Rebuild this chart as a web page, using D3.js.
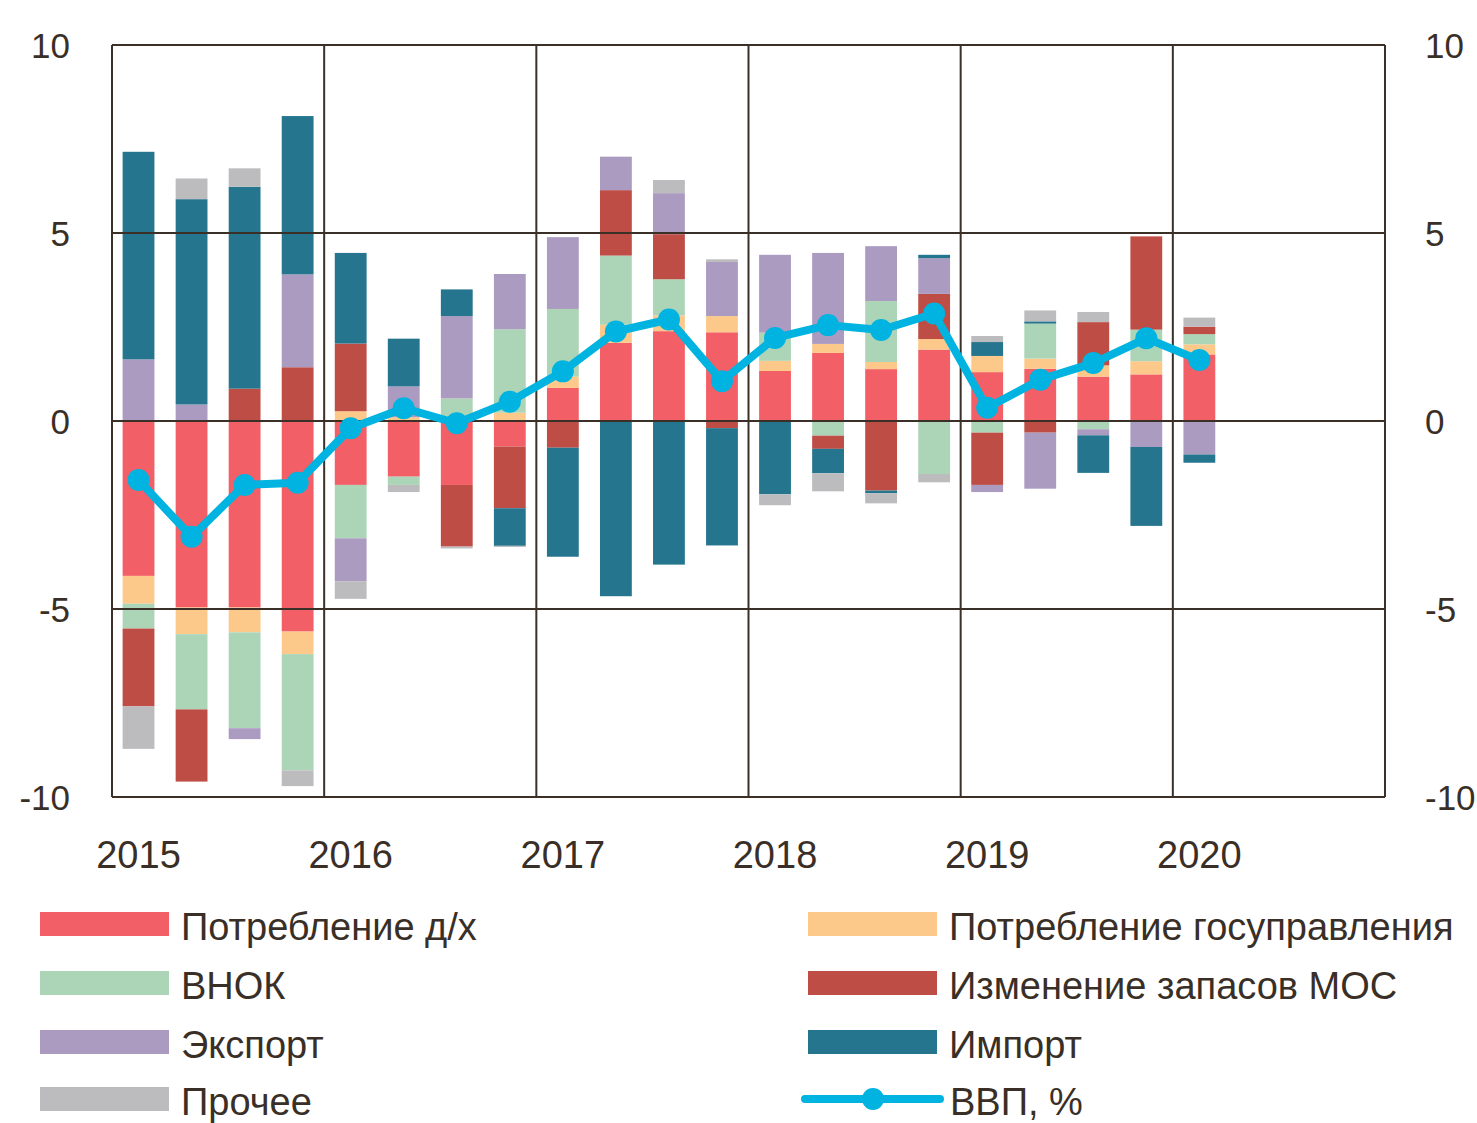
<!DOCTYPE html>
<html>
<head>
<meta charset="utf-8">
<script src="https://cdn.jsdelivr.net/npm/d3@7"></script>
<style>
  body { margin: 0; background: #fff; }
  text { font-family: "Liberation Sans", Arial, sans-serif; fill: #3a2f27; }
</style>
</head>
<body>
<div id="chart"></div>
<script>
"use strict";

let svgWidth = 1477;
let svgHeight = 1123;

/* Data */
let years = [2015, 2016, 2017, 2018, 2019, 2020];
let quarters = ["2015Q1", "2015Q2", "2015Q3", "2015Q4",
  "2016Q1", "2016Q2", "2016Q3", "2016Q4",
  "2017Q1", "2017Q2", "2017Q3", "2017Q4",
  "2018Q1", "2018Q2", "2018Q3", "2018Q4",
  "2019Q1", "2019Q2", "2019Q3", "2019Q4",
  "2020Q1"];
// empty slots so 2020 gets the full width like the other years
let axisQuarters = quarters.concat(["2020Q2", "2020Q3", "2020Q4"]);

let seriesNames = ["Потребление д/х", "Потребление госуправления", "ВНОК",
  "Изменение запасов МОС", "Экспорт", "Импорт", "Прочее"];
let seriesKeys = ["cons", "gov", "bnok", "inv", "exp", "imp", "other"];
let seriesColors = ["#f35f66", "#fdc98a", "#acd5b7", "#be4d45", "#ab9bc0", "#25758e", "#bcbcbe"];

let consumption = [-4.12, -4.96, -4.96, -5.60, -1.70, -1.48, -1.70, -0.68, 0.88, 2.08, 2.39, 2.36, 1.33, 1.81, 1.38, 1.90, 1.30, 1.39, 1.18, 1.24, 1.77];
let government = [-0.74, -0.71, -0.66, -0.60, 0.26, 0.10, 0.05, 0.22, 0.30, 0.48, 0.42, 0.43, 0.27, 0.24, 0.19, 0.28, 0.43, 0.27, 0.30, 0.35, 0.27];
let investment = [-0.66, -2.00, -2.55, -3.09, -1.42, -0.22, 0.55, 2.22, 1.80, 1.84, 0.96, 0.00, 0.75, -0.39, 1.62, -1.41, -0.31, 0.93, -0.22, 0.84, 0.27];
let inventories = [-2.07, -1.92, 0.86, 1.43, 1.80, 0.00, -1.64, -1.64, -0.71, 1.74, 1.20, -0.19, 0.00, -0.35, -1.85, 1.20, -1.39, -0.31, 1.15, 2.48, 0.20];
let exports = [1.64, 0.44, -0.29, 2.47, -1.14, 0.82, 2.19, 1.47, 1.91, 0.89, 1.09, 1.44, 2.07, 2.42, 1.46, 0.95, -0.19, -1.49, -0.16, -0.69, -0.89];
let imports = [5.52, 5.46, 5.37, 4.21, 2.41, 1.27, 0.71, -1.00, -2.90, -4.66, -3.82, -3.12, -1.95, -0.65, -0.07, 0.09, 0.37, 0.06, -1.00, -2.10, -0.22];
let other = [-1.13, 0.55, 0.49, -0.42, -0.47, -0.19, -0.05, -0.03, 0.00, 0.00, 0.35, 0.07, -0.29, -0.48, -0.27, -0.22, 0.16, 0.29, 0.27, 0.00, 0.24];
let gdp = [-1.57, -3.08, -1.70, -1.64, -0.19, 0.34, -0.06, 0.51, 1.32, 2.38, 2.70, 1.06, 2.21, 2.55, 2.42, 2.86, 0.35, 1.10, 1.54, 2.20, 1.62];

let yTicks = [-10, -5, 0, 5, 10];

let rows = quarters.map((q, i) => ({
  q: q,
  cons: consumption[i],
  gov: government[i],
  bnok: investment[i],
  inv: inventories[i],
  exp: exports[i],
  imp: imports[i],
  other: other[i],
  gdp: gdp[i]
}));

/* Canvas */
let svg = d3.select("#chart")
  .append("svg")
  .attr("width", svgWidth)
  .attr("height", svgHeight);

let plotLeft = 112, plotRight = 1385, plotTop = 45, plotBottom = 797;

let xScale = d3.scaleBand()
  .domain(axisQuarters)
  .range([plotLeft, plotRight])
  .paddingInner(0.4)
  .paddingOuter(0.2);

let yearScale = d3.scaleLinear()
  .domain([years[0], years[years.length - 1] + 1])
  .range([plotLeft, plotRight]);

let yScale = d3.scaleLinear()
  .domain([-10, 10])
  .range([plotBottom, plotTop]);

/* Bars */
let stack = d3.stack()
  .keys(seriesKeys)
  .order(d3.stackOrderNone)
  .offset(d3.stackOffsetDiverging);

let layers = stack(rows);

svg.append("g")
  .selectAll("g")
  .data(layers)
  .join("g")
  .attr("fill", (d, i) => seriesColors[i])
  .selectAll("rect")
  .data(d => d)
  .join("rect")
  .attr("x", d => xScale(d.data.q))
  .attr("width", xScale.bandwidth())
  .attr("y", d => yScale(Math.max(d[0], d[1])))
  .attr("height", d => Math.abs(yScale(d[0]) - yScale(d[1])));

/* Grid */
let gridColor = "#3b3027";

svg.append("g")
  .selectAll("line")
  .data(yTicks)
  .join("line")
  .attr("x1", plotLeft)
  .attr("x2", plotRight)
  .attr("y1", d => yScale(d))
  .attr("y2", d => yScale(d))
  .attr("stroke", gridColor)
  .attr("stroke-width", 2);

svg.append("g")
  .selectAll("line")
  .data(years.concat([years[years.length - 1] + 1]))
  .join("line")
  .attr("x1", d => yearScale(d))
  .attr("x2", d => yearScale(d))
  .attr("y1", plotTop)
  .attr("y2", plotBottom)
  .attr("stroke", gridColor)
  .attr("stroke-width", 2);

/* GDP line */
let gdpColor = "#00b3e0";

let line = d3.line()
  .x(d => xScale(d.q) + xScale.bandwidth() / 2)
  .y(d => yScale(d.gdp));

svg.append("path")
  .datum(rows)
  .attr("fill", "none")
  .attr("stroke", gdpColor)
  .attr("stroke-width", 8)
  .attr("stroke-linejoin", "round")
  .attr("d", line);

svg.append("g")
  .selectAll("circle")
  .data(rows)
  .join("circle")
  .attr("cx", d => xScale(d.q) + xScale.bandwidth() / 2)
  .attr("cy", d => yScale(d.gdp))
  .attr("r", 11)
  .attr("fill", gdpColor);

/* Y labels, both sides */
svg.append("g")
  .selectAll("text")
  .data(yTicks)
  .join("text")
  .attr("x", 70)
  .attr("y", d => yScale(d))
  .attr("text-anchor", "end")
  .attr("dominant-baseline", "central")
  .attr("font-size", 35)
  .text(d => d);

svg.append("g")
  .selectAll("text")
  .data(yTicks)
  .join("text")
  .attr("x", 1425)
  .attr("y", d => yScale(d))
  .attr("text-anchor", "start")
  .attr("dominant-baseline", "central")
  .attr("font-size", 35)
  .text(d => d);

/* Year labels under the first quarter of each year */
svg.append("g")
  .selectAll("text")
  .data(years)
  .join("text")
  .attr("x", d => xScale(d + "Q1") + xScale.bandwidth() / 2)
  .attr("y", 855)
  .attr("text-anchor", "middle")
  .attr("dominant-baseline", "central")
  .attr("font-size", 38)
  .text(d => d);

/* Legend */
let legendItems = [
  { name: seriesNames[0], color: seriesColors[0], col: 0, row: 0 },
  { name: seriesNames[2], color: seriesColors[2], col: 0, row: 1 },
  { name: seriesNames[4], color: seriesColors[4], col: 0, row: 2 },
  { name: seriesNames[6], color: seriesColors[6], col: 0, row: 3 },
  { name: seriesNames[1], color: seriesColors[1], col: 1, row: 0 },
  { name: seriesNames[3], color: seriesColors[3], col: 1, row: 1 },
  { name: seriesNames[5], color: seriesColors[5], col: 1, row: 2 }
];

let colX = [40, 808];
let rowY = [924, 983, 1042, 1099];

let legend = svg.append("g");

legendItems.forEach(item => {
  legend.append("rect")
    .attr("x", colX[item.col])
    .attr("y", rowY[item.row] - 12)
    .attr("width", 129)
    .attr("height", 24)
    .attr("fill", item.color);

  legend.append("text")
    .attr("x", colX[item.col] + 141)
    .attr("y", rowY[item.row] + 3)
    .attr("dominant-baseline", "central")
    .attr("font-size", 38)
    .text(item.name);
});

legend.append("line")
  .attr("x1", 805)
  .attr("x2", 940)
  .attr("y1", rowY[3])
  .attr("y2", rowY[3])
  .attr("stroke", gdpColor)
  .attr("stroke-width", 8)
  .attr("stroke-linecap", "round");

legend.append("circle")
  .attr("cx", 873)
  .attr("cy", rowY[3])
  .attr("r", 11)
  .attr("fill", gdpColor);

legend.append("text")
  .attr("x", 950)
  .attr("y", rowY[3] + 3)
  .attr("dominant-baseline", "central")
  .attr("font-size", 38)
  .text("ВВП, %");
</script>
</body>
</html>
